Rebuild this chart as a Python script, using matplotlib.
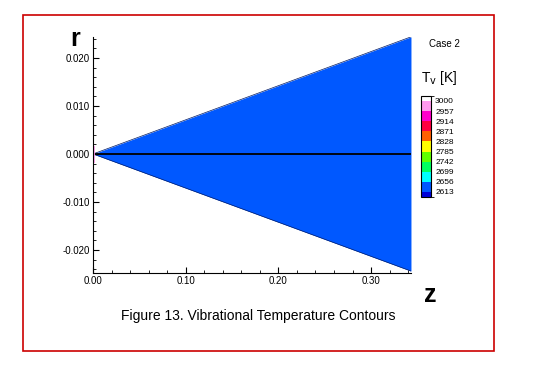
import numpy as np
import matplotlib
import matplotlib.pyplot as plt
from matplotlib.colors import ListedColormap, BoundaryNorm
from matplotlib.patches import Rectangle
from matplotlib.ticker import MultipleLocator, FixedLocator

plt.rcParams['font.family'] = ['Liberation Sans', 'DejaVu Sans']

# wedge geometry (z, r) and the vibrational temperature in it
z_wall = np.array([0.0, 0.343])
r_wall = np.array([0.0, 0.0244])
tv_wedge = 2630.0

# contour levels of T_v [K] and their colours (bottom -> top)
tv_levels = [2613, 2656, 2699, 2742, 2785, 2828, 2871, 2914, 2957, 3000]
tv_colors = ['#0000d8', '#0058ff', '#00ffff', '#00ff60', '#60ff00', '#ffff00',
             '#ff6000', '#ff0040', '#ff00cc', '#ff99ee', '#ffffff']

y_ticks = [-0.02, -0.01, 0.0, 0.01, 0.02]
y_labels = ['-0.020', '-0.010', '0.000', '0.010', '0.020']
x_ticks = [0.0, 0.1, 0.2, 0.3]
x_labels = ['0.00', '0.10', '0.20', '0.30']

cmap = ListedColormap(tv_colors)
bounds = [tv_levels[0] - 21.5] + tv_levels + [tv_levels[-1] + 21.5]
norm = BoundaryNorm(bounds, cmap.N)

fig = plt.figure(figsize=(5.52, 3.76), dpi=100)
fig.patches.append(Rectangle((0.0417, 0.0665), 0.853, 0.8935, transform=fig.transFigure,
                             fill=False, edgecolor='#cc0000', linewidth=1.2))

ax = fig.add_axes([0.1685, 0.274, 0.576, 0.628])
ax.fill_between(z_wall, -r_wall, r_wall, color=cmap(norm(tv_wedge)), linewidth=0)
ax.plot(z_wall, r_wall, color='#001a66', linewidth=0.5)
ax.plot(z_wall, -r_wall, color='#001a66', linewidth=0.5)
ax.plot(z_wall, [0, 0], color='black', linewidth=1.3)
ax.plot([0, 0], [-0.0015, 0.0015], color='#ff99ee', linewidth=2)

ax.set_xlim(0, z_wall[-1])
ax.set_ylim(-0.0248, r_wall[-1])
for s in ['top', 'right']:
    ax.spines[s].set_visible(False)
ax.xaxis.set_major_locator(FixedLocator(x_ticks))
ax.yaxis.set_major_locator(FixedLocator(y_ticks))
ax.set_xticklabels(x_labels)
ax.set_yticklabels(y_labels)
ax.xaxis.set_minor_locator(MultipleLocator(0.02))
ax.yaxis.set_minor_locator(MultipleLocator(0.002))
ax.tick_params(which='both', direction='in', labelsize=7, pad=2)
ax.tick_params(which='major', length=4)
ax.tick_params(which='minor', length=2.5)

fig.text(0.136, 0.895, 'r', fontsize=18, fontweight='bold', ha='center', va='center')
fig.text(0.78, 0.215, 'z', fontsize=18, fontweight='bold', ha='center', va='center')
fig.text(0.467, 0.16, 'Figure 13. Vibrational Temperature Contours', fontsize=10,
         ha='center', va='center')
fig.text(0.806, 0.883, 'Case 2', fontsize=7, ha='center', va='center')
fig.text(0.795, 0.792, r'T$_{\rm v}$ [K]', fontsize=10, ha='center', va='center')

cax = fig.add_axes([0.7627, 0.476, 0.018, 0.269])
cb = fig.colorbar(matplotlib.cm.ScalarMappable(norm=norm, cmap=cmap), cax=cax,
                  boundaries=bounds, ticks=tv_levels, spacing='proportional')
cb.outline.set_edgecolor('black')
cb.outline.set_linewidth(0.8)
cb.ax.tick_params(length=0, labelsize=6, pad=3)
cb.ax.set_yticklabels([str(v) for v in tv_levels])

fig.savefig('out.png', dpi=100)
